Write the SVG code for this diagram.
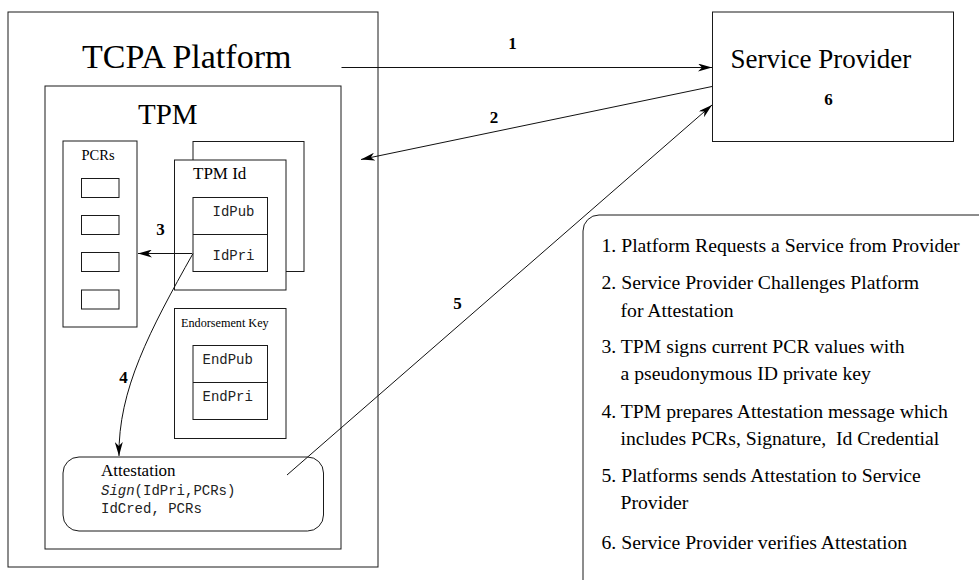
<svg xmlns="http://www.w3.org/2000/svg" width="979" height="580" viewBox="0 0 979 580">
  <style>
    .box { fill: none; stroke: #1a1a1a; stroke-width: 1; }
    .wire { fill: none; stroke: #111; stroke-width: 1; }
    .serif { font-family: "Liberation Serif", "Times New Roman", serif; fill: #000; }
    .mono { font-family: "Liberation Mono", "Courier New", monospace; fill: #222; font-size: 14px; }
    .num { font-family: "Liberation Serif", "Times New Roman", serif; font-weight: bold; font-size: 17px; text-anchor: middle; fill: #000; }
    .legend { font-family: "Liberation Serif", "Times New Roman", serif; font-size: 19.7px; fill: #000; }
  </style>
  <defs>
    <marker id="arrow" viewBox="0 0 14 8" refX="14" refY="4" markerWidth="14" markerHeight="8" markerUnits="userSpaceOnUse" orient="auto">
      <path d="M0,0 L14,4 L0,8 L4,4 z" fill="#000"/>
    </marker>
  </defs>

  <!-- platform and its TPM -->
  <g id="tcpa-platform">
    <rect class="box" x="8" y="12" width="370" height="555"/>
    <text class="serif" x="82" y="68" font-size="34">TCPA Platform</text>
  </g>
  <g id="tpm">
    <rect class="box" x="45" y="86" width="296" height="463"/>
    <text class="serif" x="138" y="124" font-size="29">TPM</text>
  </g>

  <g id="pcrs">
    <rect class="box" x="63" y="141" width="74" height="186"/>
    <text class="serif" x="81.5" y="160" font-size="14.5">PCRs</text>
    <rect class="box" x="81.5" y="178.5" width="37.5" height="19"/>
    <rect class="box" x="81.5" y="215.5" width="37.5" height="19"/>
    <rect class="box" x="81.5" y="252.5" width="37.5" height="19"/>
    <rect class="box" x="81.5" y="290" width="37.5" height="19"/>
  </g>

  <g id="tpm-id">
    <rect class="box" x="193" y="141.5" width="111" height="130"/>
    <rect x="174.5" y="160" width="111.5" height="130" fill="#fff" stroke="#1a1a1a" stroke-width="1"/>
    <text class="serif" x="193" y="179" font-size="17">TPM Id</text>
    <rect class="box" x="193" y="197.5" width="74.5" height="74"/>
    <line class="box" x1="193" y1="234.5" x2="267.5" y2="234.5"/>
    <text class="mono" x="212.5" y="216">IdPub</text>
    <text class="mono" x="212.5" y="260">IdPri</text>
  </g>

  <g id="endorsement-key">
    <rect class="box" x="174.5" y="308.5" width="111.5" height="130"/>
    <text class="serif" x="181" y="327" font-size="12.2">Endorsement Key</text>
    <rect class="box" x="193" y="345.5" width="74.5" height="74"/>
    <line class="box" x1="193" y1="382.5" x2="267.5" y2="382.5"/>
    <text class="mono" x="202.5" y="363.5">EndPub</text>
    <text class="mono" x="202.5" y="400.5">EndPri</text>
  </g>

  <g id="attestation">
    <rect class="box" x="63" y="457" width="260.5" height="74" rx="16" ry="16"/>
    <text class="serif" x="101" y="476" font-size="17">Attestation</text>
    <text class="mono" x="101" y="495"><tspan font-style="italic">Sign</tspan>(IdPri,PCRs)</text>
    <text class="mono" x="101" y="513">IdCred, PCRs</text>
  </g>

  <g id="service-provider">
    <rect class="box" x="712.5" y="12" width="241" height="129.5"/>
    <text class="serif" x="730.5" y="68" font-size="27">Service Provider</text>
    <text class="num" x="828.5" y="104.5">6</text>
  </g>

  <g id="legend">
    <rect class="box" x="583" y="215" width="430" height="400" rx="16" ry="16"/>
    <text class="legend" x="601.5" y="251.5">1. Platform Requests a Service from Provider</text>
    <text class="legend" x="601.5" y="289">2. Service Provider Challenges Platform</text>
    <text class="legend" x="620.5" y="316.5">for Attestation</text>
    <text class="legend" x="601.5" y="352.5">3. TPM signs current PCR values with</text>
    <text class="legend" x="620.5" y="380">a pseudonymous ID private key</text>
    <text class="legend" x="601.5" y="417.5">4. TPM prepares Attestation message which</text>
    <text class="legend" x="620.5" y="445" xml:space="preserve">includes PCRs, Signature,  Id Credential</text>
    <text class="legend" x="601.5" y="481.5">5. Platforms sends Attestation to Service</text>
    <text class="legend" x="620.5" y="508.5">Provider</text>
    <text class="legend" x="601.5" y="548.5">6. Service Provider verifies Attestation</text>
  </g>

  <!-- message flow between the parts -->
  <g id="connectors">
    <line class="wire" x1="341.5" y1="67.5" x2="712" y2="67.5" marker-end="url(#arrow)"/>
    <line class="wire" x1="712" y1="86.5" x2="361" y2="159.5" marker-end="url(#arrow)"/>
    <line class="wire" x1="192" y1="253.5" x2="138" y2="253.5" marker-end="url(#arrow)"/>
    <path class="wire" d="M193,253.5 C150,330 118,390 119,456" marker-end="url(#arrow)"/>
    <line class="wire" x1="287" y1="475" x2="712" y2="105" marker-end="url(#arrow)"/>
    <text class="num" x="512.5" y="48.5">1</text>
    <text class="num" x="494" y="122.5">2</text>
    <text class="num" x="160.5" y="235">3</text>
    <text class="num" x="123.5" y="382.5">4</text>
    <text class="num" x="457.5" y="308.5">5</text>
  </g>
</svg>
